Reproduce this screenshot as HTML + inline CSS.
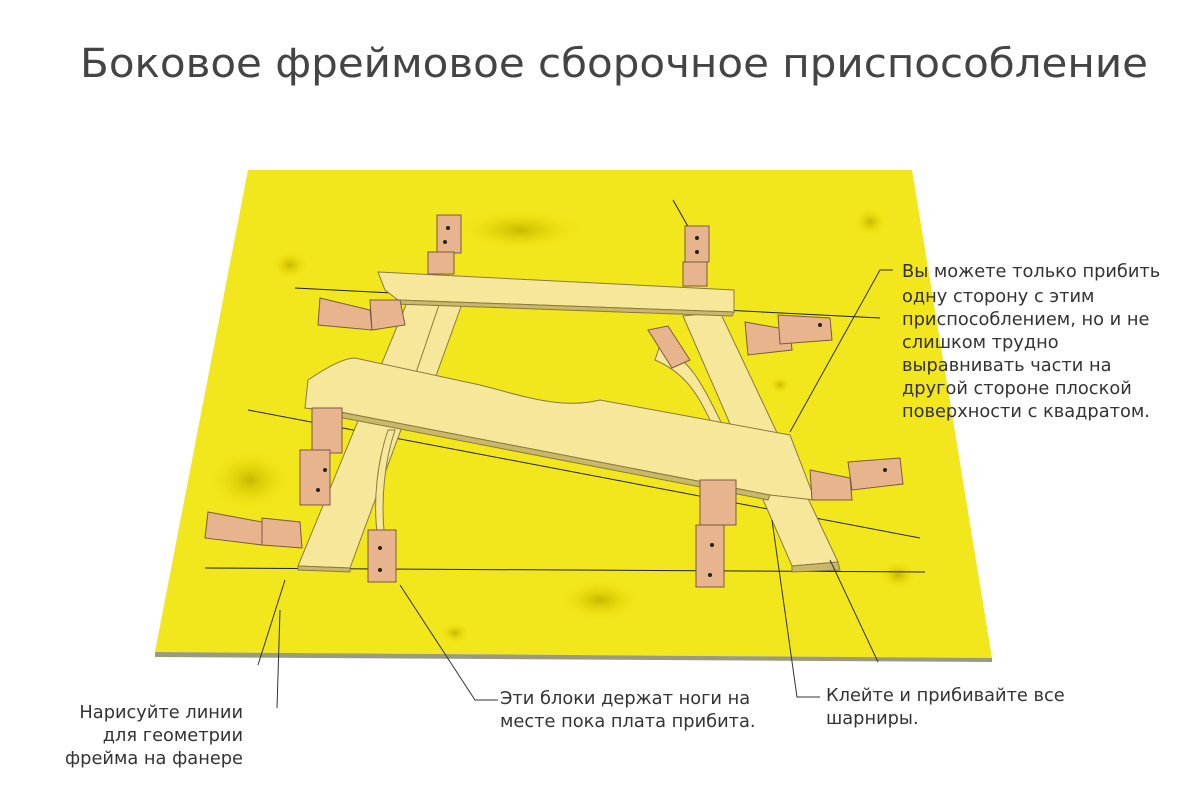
<!DOCTYPE html>
<html><head><meta charset="utf-8"><style>
html,body{margin:0;padding:0;background:#fff;}
svg{display:block}
text{font-family:"DejaVu Sans","Liberation Sans",sans-serif;fill:#333}
</style></head><body>
<svg width="1198" height="808" viewBox="0 0 1198 808" xmlns="http://www.w3.org/2000/svg">
<defs>
<radialGradient id="sp" cx="50%" cy="50%" r="50%"><stop offset="0" stop-color="#c8b800"/><stop offset="1" stop-color="#f0e000" stop-opacity="0"/></radialGradient>
</defs>
<text x="80" y="77" font-size="40" style="fill:#444" textLength="1068" lengthAdjust="spacingAndGlyphs">Боковое фреймовое сборочное приспособление</text>
<polygon points="248,170 912,170 992,658 155,652" fill="#f2e61c"/>
<polygon points="155,652 992,658 992,662 155,657" fill="#9a9a80"/>
<g fill="url(#sp)">
<ellipse cx="290" cy="265" rx="18" ry="14"/><ellipse cx="870" cy="222" rx="16" ry="14"/>
<ellipse cx="898" cy="575" rx="18" ry="14"/><ellipse cx="455" cy="633" rx="14" ry="10"/>
<ellipse cx="780" cy="385" rx="10" ry="8"/><ellipse cx="600" cy="600" rx="40" ry="20"/>
<ellipse cx="520" cy="230" rx="60" ry="20"/><ellipse cx="250" cy="480" rx="40" ry="30"/>
</g>
<g stroke="#222" stroke-width="1" fill="none">
<line x1="295" y1="288" x2="880" y2="318"/>
<line x1="248" y1="410" x2="920" y2="538"/>
<line x1="205" y1="568" x2="925" y2="572"/>
<line x1="673" y1="200" x2="690" y2="230"/>
</g>
<g fill="#f7e79a" stroke="#8a7a40" stroke-width="1">
<polygon points="408,300 448,302 350,568 298,566"/>
<polygon points="298,566 350,568 350,572 298,570" fill="#c9b86a"/>
<polygon points="440,302 462,304 420,420 400,420"/>
<polygon points="683,316 720,312 838,562 792,566"/>
<polygon points="792,566 838,562 840,570 792,572" fill="#c9b86a"/>
<path d="M660,345 C690,360 700,380 720,420 L728,440 L715,430 C700,400 690,375 655,360 Z"/>
<path d="M395,430 C385,460 380,500 385,540 L378,540 C372,500 378,460 388,430 Z"/>
<polygon points="378,272 734,290 734,312 398,300 385,290"/>
<polygon points="398,300 734,312 732,316 395,304" fill="#c9b86a"/>
<path d="M308,380 C330,365 345,358 355,358 L480,385 C520,395 560,410 600,400 L790,435 L815,500 L770,495 L340,412 L305,408 Z"/>
<polygon points="340,412 770,495 768,500 338,417" fill="#c9b86a"/>
</g>
<g fill="#e8b48e" stroke="#7a5a40" stroke-width="1">
<rect x="437" y="215" width="24" height="38"/><rect x="428" y="252" width="26" height="22"/>
<rect x="685" y="226" width="24" height="36"/><rect x="683" y="262" width="24" height="24"/>
<polygon points="320,298 370,310 372,330 318,325"/><polygon points="370,300 400,300 405,325 372,330"/>
<polygon points="745,322 790,330 792,350 748,355"/><polygon points="778,315 830,318 832,340 780,344"/>
<polygon points="648,330 668,326 690,360 672,368"/>
<rect x="312" y="408" width="30" height="45"/><rect x="300" y="450" width="30" height="55"/>
<polygon points="208,512 262,522 262,545 205,538"/><polygon points="262,518 300,522 302,548 262,545"/>
<rect x="368" y="530" width="28" height="52"/>
<rect x="700" y="480" width="36" height="45"/><rect x="696" y="525" width="28" height="62"/>
<polygon points="810,470 850,478 852,500 812,500"/><polygon points="848,462 900,458 903,484 852,490"/>
</g>
<g fill="#222">
<circle cx="448" cy="228" r="2"/><circle cx="445" cy="242" r="2"/><circle cx="697" cy="238" r="2"/><circle cx="697" cy="252" r="2"/>
<circle cx="325" cy="470" r="2"/><circle cx="318" cy="490" r="2"/><circle cx="380" cy="548" r="2"/><circle cx="380" cy="570" r="2"/>
<circle cx="712" cy="545" r="2"/><circle cx="710" cy="575" r="2"/><circle cx="820" cy="325" r="2"/><circle cx="885" cy="470" r="2"/>
</g>
<g stroke="#333" stroke-width="1" fill="none">
<polyline points="893,270 880,270 790,432"/>
<polyline points="258,665 285,580"/>
<polyline points="277,708 280,610"/>
<polyline points="498,700 475,700 400,585"/>
<polyline points="820,697 797,697 772,520"/>
<polyline points="878,662 830,560"/>
</g>
<g font-size="17.8">
<text x="902" y="277">Вы можете только прибить</text>
<text x="902" y="302">одну сторону с этим</text>
<text x="902" y="325">приспособлением, но и не</text>
<text x="902" y="348">слишком трудно</text>
<text x="902" y="371">выравнивать части на</text>
<text x="902" y="394">другой стороне плоской</text>
<text x="902" y="417">поверхности с квадратом.</text>
<text x="500" y="704">Эти блоки держат ноги на</text>
<text x="500" y="727">месте пока плата прибита.</text>
<text x="826" y="701">Клейте и прибивайте все</text>
<text x="826" y="724">шарниры.</text>
<text x="243" y="718" text-anchor="end">Нарисуйте линии</text>
<text x="243" y="741" text-anchor="end">для геометрии</text>
<text x="243" y="764" text-anchor="end">фрейма на фанере</text>
</g>
</svg>
</body></html>
